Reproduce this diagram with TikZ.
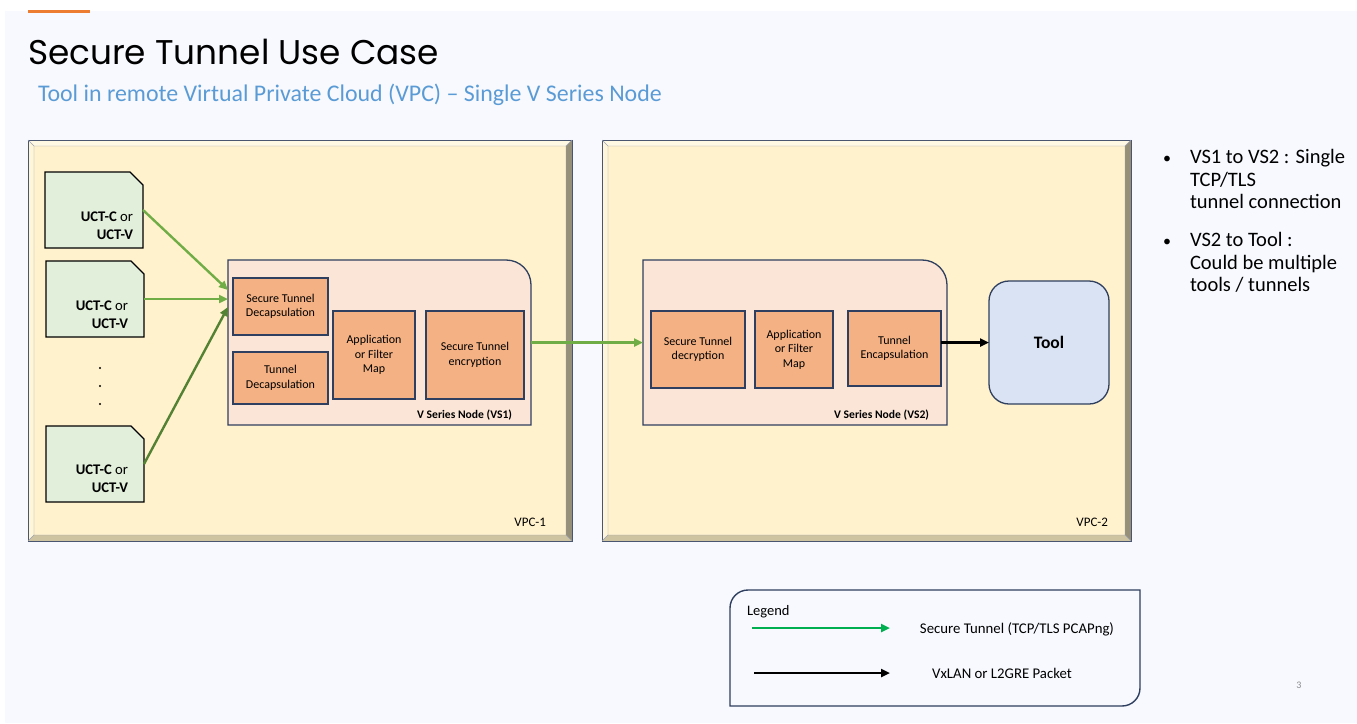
\documentclass[tikz,border=0pt]{standalone}
\usepackage{fontspec}
\setmainfont{Carlito}
\newfontfamily\titlefont{Poppins}
\usetikzlibrary{arrows.meta}
\definecolor{pagebg}{HTML}{F7F9FE}
\definecolor{accent}{HTML}{ED7D31}
\definecolor{subblue}{HTML}{5B9BD5}
\definecolor{vpcfill}{HTML}{FFF2CC}
\definecolor{bevtop}{HTML}{FFF8E3}
\definecolor{bevleft}{HTML}{FFF6DA}
\definecolor{bevbot}{HTML}{CFC4A1}
\definecolor{bevright}{HTML}{979079}
\definecolor{vpcedge}{HTML}{4A5570}
\definecolor{vsfill}{HTML}{FBE5D6}
\definecolor{navy}{HTML}{2F3F5F}
\definecolor{boxfill}{HTML}{F4B183}
\definecolor{uctfill}{HTML}{E2EFDA}
\definecolor{toolfill}{HTML}{DAE3F3}
\definecolor{arrgreen}{HTML}{70AD47}
\definecolor{darkgreen}{HTML}{548235}
\definecolor{leggreen}{HTML}{00B050}
\definecolor{pagenum}{HTML}{8C8C8C}
\newcommand{\fsz}[2]{\fontsize{#1}{#2}\selectfont}
\newcommand{\bevelframe}[4]{%
 \fill[bevtop] (#1,#2) -- (#3,#2) -- (#3-6,#2+6) -- (#1+6,#2+6) -- cycle;
 \fill[bevleft] (#1,#2) -- (#1+6,#2+6) -- (#1+6,#4-6) -- (#1,#4) -- cycle;
 \fill[bevbot] (#1,#4) -- (#1+6,#4-6) -- (#3-6,#4-6) -- (#3,#4) -- cycle;
 \fill[bevright] (#3,#2) -- (#3,#4) -- (#3-6,#4-6) -- (#3-6,#2+6) -- cycle;
 \fill[vpcfill] (#1+6,#2+6) rectangle (#3-6,#4-6);
 \draw[vpcedge, line width=0.9pt] (#1,#2) rectangle (#3,#4);
 \draw[vpcedge!55, line width=0.4pt] (#1+6,#2+6) rectangle (#3-6,#4-6)
   (#1,#2) -- (#1+6,#2+6) (#3,#2) -- (#3-6,#2+6) (#1,#4) -- (#1+6,#4-6) (#3,#4) -- (#3-6,#4-6);
}
\newcommand{\uctbox}[3]{% name, cx, cy
 \node[uctframe] (#1) at (#2,#3) {};
 \filldraw[fill=uctfill, draw=black, line width=1.4pt, line join=miter]
   (#1.south west) -- (#1.north west) -- ([xshift=-13pt]#1.north east)
   -- ([yshift=-13pt]#1.north east) -- (#1.south east) -- cycle;
}
\newcommand{\vsframe}[1]{%
 \filldraw[fill=vsfill, draw=navy, line width=1.3pt]
   (#1.south west) -- (#1.north west) -- ([xshift=-25pt]#1.north east)
   .. controls ([xshift=-11pt]#1.north east) and ([yshift=-11pt]#1.north east) ..
   ([yshift=-25pt]#1.north east) -- (#1.south east) -- cycle;
}
\tikzset{
  every node/.style={inner sep=0pt, outer sep=0pt},
  procbox/.style={draw=navy, line width=1.3pt, fill=boxfill, align=center, font={\fsz{12}{14.5}}},
  uctframe/.style={minimum width=#1, minimum height=76pt},
  uctframe/.default=98pt,
  ucttext/.style={align=right, anchor=east, font={\fsz{14.7}{18}}},
  vslabel/.style={anchor=base east, font={\bfseries\fsz{11.6}{13}}},
  vpclabel/.style={anchor=base east, font={\fsz{13}{15}}},
  bullettext/.style={anchor=base west, font={\fsz{20.5}{22.5}}},
  legtext/.style={font={\fsz{14.8}{17}}},
  dotmark/.style={circle, fill=black, minimum size=2.2pt},
  greenflow/.style={draw=arrgreen, line width=2.4pt, -{Triangle[length=9pt,width=8pt]}},
  darkflow/.style={draw=darkgreen, line width=2.4pt, -{Triangle[length=9pt,width=8pt]}},
  blackflow/.style={draw=black, line width=2.4pt, -{Triangle[length=9pt,width=8pt]}},
  legflow/.style={draw=leggreen, line width=2.4pt, -{Triangle[length=9pt,width=8pt]}},
}
\begin{document}
\begin{tikzpicture}[x=1pt,y=-1pt]
\useasboundingbox (0,0) rectangle (1357,723);
\fill[white] (0,0) rectangle (1357,723);
\fill[pagebg] (5,11) rectangle (1357,723);
\fill[accent] (28,10) rectangle (90,12.5);

% titles
\node[anchor=base west, font={\titlefont\fsz{34.3}{40}}] (title) at (28,64) {Secure Tunnel Use Case};
\node[anchor=base west, text=subblue, font={\fsz{23.9}{28}}] (subtitle) at (38,101) {Tool in remote Virtual Private Cloud (VPC) – Single V Series Node};

% VPC frames
\bevelframe{28}{140}{572}{541}
\bevelframe{602}{140}{1131}{541}
\node[vpclabel] (vpc1l) at (546,526) {VPC-1};
\node[vpclabel] (vpc2l) at (1108,526) {VPC-2};

% UCT boxes
\uctbox{u1}{94}{210}
\uctbox{u2}{95}{299}
\uctbox{u3}{95}{464}
\node[ucttext] (u1t) at (133,226) {\textbf{UCT-C} or\\\textbf{UCT-V}};
\node[ucttext] (u2t) at (128,315) {\textbf{UCT-C} or\\\textbf{UCT-V}};
\node[ucttext] (u3t) at (128,479) {\textbf{UCT-C} or\\\textbf{UCT-V}};
\node[dotmark] (d1) at (100,368) {};
\node[dotmark] (d2) at (100,386) {};
\node[dotmark] (d3) at (100,404) {};

% VS1
\node[minimum width=303pt, minimum height=165pt] (vs1) at (379.5,342.5) {};
\vsframe{vs1}
\node[procbox, minimum width=95pt, minimum height=57pt] (sd1) at (280.5,306.5) {Secure Tunnel\\Decapsulation};
\node[procbox, minimum width=95pt, minimum height=52pt] (td1) at (280.5,378) {Tunnel\\Decapsulation};
\node[procbox, minimum width=82pt, minimum height=88pt] (am1) at (374,355) {Application\\or Filter\\Map};
\node[procbox, minimum width=98pt, minimum height=88pt] (se1) at (475,355) {Secure Tunnel\\encryption};
\node[vslabel] (vs1l) at (512,418) {V Series Node (VS1)};

% VS2
\node[minimum width=304pt, minimum height=165pt] (vs2) at (795,342.5) {};
\vsframe{vs2}
\node[procbox, minimum width=94pt, minimum height=77pt] (sdc2) at (698,349.5) {Secure Tunnel\\decryption};
\node[procbox, minimum width=78pt, minimum height=77pt] (am2) at (794,349.5) {Application\\or Filter\\Map};
\node[procbox, minimum width=93pt, minimum height=75pt] (te2) at (894.5,348.5) {Tunnel\\Encapsulation};
\node[vslabel] (vs2l) at (929,418) {V Series Node (VS2)};

% Tool
\node[draw=navy, line width=1.3pt, fill=toolfill, rounded corners=20pt, minimum width=120pt, minimum height=123pt, font={\bfseries\fsz{17.5}{20}}] (tool) at (1049,342.5) {Tool};

% connectors
\coordinate (in1) at (228,290);
\coordinate (in2) at (228,299);
\coordinate (in3) at (228,307);
\draw[greenflow] (u1.east) -- (in1);
\draw[greenflow] (u2.east) -- (in2);
\draw[darkflow] (u3.east) -- (in3);
\draw[greenflow] (vs1.east) -- (vs2.west);
\draw[blackflow] (te2.east |- tool.west) -- (tool.west);

% right notes
\node[anchor=base west, font={\fsz{16}{20}}] (b1) at (1163,163) {•};
\node[bullettext] (n1a) at (1190,163) {VS1 to VS2 : Single};
\node[bullettext] (n1b) at (1190,186) {TCP/TLS};
\node[bullettext] (n1c) at (1190,208) {tunnel connection};
\node[anchor=base west, font={\fsz{16}{20}}] (b2) at (1163,246) {•};
\node[bullettext] (n2a) at (1190,246) {VS2 to Tool :};
\node[bullettext] (n2b) at (1190,269) {Could be multiple};
\node[bullettext] (n2c) at (1190,291) {tools / tunnels};

% legend
\node[minimum width=410pt, minimum height=116pt] (legend) at (935,648) {};
\filldraw[fill=pagebg, draw=navy, line width=1.4pt]
  ([yshift=-18pt]legend.north west) .. controls ([yshift=-8pt]legend.north west) and ([xshift=8pt]legend.north west) ..
  ([xshift=18pt]legend.north west) -- (legend.north east) -- ([yshift=18pt]legend.south east)
  .. controls ([yshift=8pt]legend.south east) and ([xshift=-8pt]legend.south east) ..
  ([xshift=-18pt]legend.south east) -- (legend.south west) -- cycle;
\node[anchor=base west, font={\fsz{14.5}{17}}] (legt) at (747,615) {Legend};
\coordinate (lg1a) at (752,628);
\coordinate (lg1b) at (890,628);
\coordinate (lg2a) at (754,673);
\coordinate (lg2b) at (890,673);
\draw[legflow] (lg1a) -- (lg1b);
\draw[blackflow] (lg2a) -- (lg2b);
\node[legtext] (leg1) at (1017,629) {Secure Tunnel (TCP/TLS PCAPng)};
\node[legtext] (leg2) at (1002,673) {VxLAN or L2GRE Packet};

% page number
\node[text=pagenum, font={\fsz{10}{12}}] (pg) at (1299,685) {3};
\end{tikzpicture}
\end{document}
